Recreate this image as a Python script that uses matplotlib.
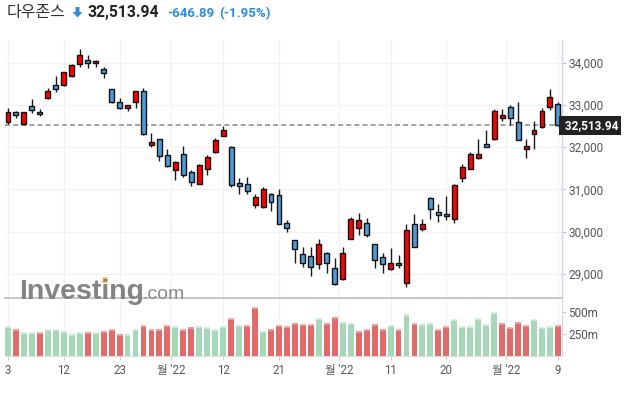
import matplotlib
matplotlib.use("Agg")
import matplotlib.pyplot as plt
from matplotlib.patches import Polygon
import numpy as np

# ---------------- data ----------------
opens = [32583, 32820, 32535, 32971, 32828, 33153, 33462, 33462, 33683, 33960,
         34055, 33984, 33842, 33367, 33058, 32915, 33058, 33319, 32060, 32195,
         31823, 31466, 31838, 31419, 31134, 31490, 31886, 32266, 32013, 31133,
         31133, 30639, 30584, 30898, 30859, 30216, 29792, 29463, 29416, 29228,
         29486, 29133, 28875, 29839, 30098, 30216, 29698, 29408, 29110, 29251,
         28780, 30192, 30075, 30804, 30451, 30412, 30310, 31276, 31490, 31751,
         32052, 32203, 32694, 32939, 32583, 31965, 32298, 32464, 32955, 33010]
highs = [32915, 32860, 32830, 33129, 32891, 33390, 33683, 33786, 33968, 34317,
         34182, 34063, 33889, 33380, 33153, 32990, 33327, 33390, 32337, 32200,
         31965, 31660, 32036, 31466, 31609, 31807, 32226, 32496, 32020, 31275,
         31290, 30882, 31055, 30914, 31016, 30286, 29800, 29627, 29643, 29816,
         29526, 29369, 29643, 30349, 30443, 30333, 29700, 29486, 29604, 29447,
         30176, 30427, 30310, 30820, 30663, 30835, 31118, 31609, 31886, 32187,
         32401, 32891, 32891, 32987, 33074, 32195, 32622, 32915, 33367, 33074]
lows = [32535, 32678, 32520, 32812, 32733, 33129, 33311, 33446, 33667, 33889,
        33865, 33905, 33644, 33034, 32899, 32860, 32915, 32282, 32005, 31672,
        31530, 31229, 31292, 31070, 31118, 31347, 31870, 32266, 31047, 30898,
        30898, 30561, 30569, 30482, 30176, 29996, 29267, 29173, 28961, 29126,
        29016, 28741, 28859, 29816, 29918, 29878, 29149, 29031, 29094, 29133,
        28686, 29627, 30012, 30310, 30231, 30286, 30208, 31173, 31474, 31728,
        32005, 32163, 32622, 32519, 32163, 31751, 31965, 32440, 32876, 32500]
closes = [32820, 32749, 32820, 32868, 32781, 33319, 33367, 33770, 33945, 34174,
          34000, 34032, 33747, 33074, 32931, 32987, 33319, 32298, 32108, 31791,
          31545, 31656, 31332, 31165, 31585, 31767, 32163, 32401, 31110, 31086,
          30961, 30827, 31016, 30710, 30192, 30098, 29596, 29267, 29157, 29698,
          29251, 28757, 29486, 30310, 30286, 29933, 29329, 29228, 29251, 29204,
          30051, 29643, 30192, 30545, 30404, 30365, 31094, 31530, 31846, 31846,
          32005, 32860, 32741, 32678, 32179, 32021, 32416, 32852, 33177, 32513.94]
volumes_m = [326, 303, 265, 265, 265, 292, 303, 280, 243, 265,
             269, 265, 280, 292, 243, 243, 292, 337, 292, 303,
             337, 326, 292, 322, 326, 315, 292, 326, 417, 337,
             337, 542, 280, 303, 337, 326, 368, 349, 349, 417,
             368, 436, 379, 360, 280, 292, 356, 303, 337, 292,
             462, 360, 356, 368, 292, 326, 405, 326, 326, 417,
             349, 485, 368, 315, 379, 337, 405, 315, 326, 337]
volume_green = [1, 0, 1, 1, 0, 1, 1, 1, 1, 1,
                0, 1, 0, 0, 0, 1, 1, 0, 0, 0,
                0, 1, 0, 0, 1, 1, 1, 1, 0, 1,
                0, 0, 1, 0, 0, 0, 0, 0, 0, 1,
                0, 0, 1, 1, 0, 0, 0, 0, 1, 0,
                1, 0, 1, 1, 0, 0, 1, 1, 1, 1,
                1, 1, 0, 0, 0, 0, 1, 1, 1, 0]
candle_up = [1, 0, 1, 0, 0, 1, 0, 1, 1, 1,
             0, 1, 0, 0, 0, 1, 1, 0, 1, 0,
             0, 1, 0, 0, 1, 1, 1, 1, 0, 0,
             0, 1, 1, 0, 0, 0, 0, 0, 0, 1,
             0, 0, 1, 1, 1, 0, 0, 0, 1, 0,
             1, 0, 1, 0, 0, 0, 1, 1, 1, 1,
             0, 1, 1, 0, 0, 1, 1, 1, 1, 0]
tick_pos = [0, 7, 14, 20.5, 27, 34, 41.5, 48, 55, 62.5, 69]
tick_labels = ["3", "12", "23", "월 '22", "12", "21", "월 '22", "11", "20", "월 '22", "9"]
price_ticks = [29000, 30000, 31000, 32000, 33000, 34000]
vol_ticks = [250, 500]
vol_tick_labels = ["250m", "500m"]
last_price = 32513.94
title_name = "다우존스"
title_price = "32,513.94"
title_change = "-646.89"
title_pct = "(-1.95%)"

# ---------------- figure ----------------
W, H = 626, 393
fig = plt.figure(figsize=(W / 100, H / 100), dpi=100)
fig.patch.set_facecolor("white")
FAM = ["Roboto", "Noto Sans CJK KR", "DejaVu Sans"]
plt.rcParams["font.family"] = FAM


def fx(x):
    return x / W


def fy(y):
    return 1 - y / H


L_PX, R_PX = 5, 561.5
x0 = 8.0
dx = 7.97
xlim = ((L_PX - x0) / dx, (R_PX - x0) / dx)

# price axes: y 40 -> 298
ax = fig.add_axes([fx(L_PX), fy(298), (R_PX - L_PX) / W, (298 - 40) / H])
ppx = 42.3 / 1000
ytop = 34000 + (62.5 - 40) / ppx
ybot = 34000 - (298 - 62.5) / ppx
ax.set_xlim(*xlim)
ax.set_ylim(ybot, ytop)

axv = fig.add_axes([fx(L_PX), fy(356), (R_PX - L_PX) / W, (356 - 298) / H])
axv.set_xlim(*xlim)
vpx = 44.3 / 500
axv.set_ylim(0, 58 / vpx)

grid_c = "#f2f2f2"
for a in (ax, axv):
    for xp in tick_pos:
        a.axvline(xp, color=grid_c, lw=0.9, zorder=0)
for p in price_ticks:
    ax.axhline(p, color=grid_c, lw=0.9, zorder=0)

# candles
idx = np.arange(len(opens))
RED = "#ff0000"
BLUE = "#4d9ad6"
ax.vlines(idx, lows, highs, color="#1a1a1a", lw=1.0, zorder=2)
bottoms = [min(o, c) for o, c in zip(opens, closes)]
heights = [max(abs(c - o), 60) for o, c in zip(opens, closes)]
cols = [RED if u else BLUE for u in candle_up]
ax.bar(idx, heights, bottom=bottoms, width=0.62, color=cols,
       edgecolor="#111111", linewidth=1.0, zorder=3)

# last price dashed line
ax.axhline(last_price, color="#9a9a9a", lw=1.3, dashes=(2.8, 1.7), zorder=1)

for s in ("top", "left", "bottom"):
    ax.spines[s].set_visible(False)
ax.spines["right"].set_color("#d3d6e0")
ax.spines["right"].set_linewidth(1.0)
ax.yaxis.tick_right()
ax.set_yticks(price_ticks)
ax.set_yticklabels([f"{p:,}" for p in price_ticks])
ax.tick_params(axis="y", length=3, color="#c8c8c8", pad=2, labelsize=8.5,
               labelcolor="#555555")
ax.set_xticks([])
ax.set_facecolor("none")

# last price box
ax.text(1.0, last_price, f" {last_price:,.2f}", transform=ax.get_yaxis_transform(),
        ha="left", va="center", fontsize=8.5, fontweight="bold", color="white",
        bbox=dict(boxstyle="square,pad=0.25", fc="#222222", ec="none"),
        zorder=10, clip_on=False)

# volume bars
GREEN_V = "#a6d7b9"
RED_V = "#e06b6b"
vcols = [GREEN_V if g else RED_V for g in volume_green]
axv.bar(idx, volumes_m, width=0.74, color=vcols, linewidth=0, zorder=2)
capcols = ["#cfeedb" if g else "#f2a8a8" for g in volume_green]
for i, v in enumerate(volumes_m):
    axv.hlines(v - 4, i - 0.37, i + 0.37, color=capcols[i], lw=1.2, zorder=3)

axv.spines["left"].set_visible(False)
axv.spines["top"].set_color("#bdbdbd")
axv.spines["top"].set_linewidth(1.2)
axv.spines["bottom"].set_color("#dcdcdc")
axv.spines["right"].set_color("#d3d6e0")
axv.yaxis.tick_right()
axv.set_yticks(vol_ticks)
axv.set_yticklabels(vol_tick_labels)
axv.tick_params(axis="y", length=3, color="#c8c8c8", pad=2, labelsize=8.5,
                labelcolor="#555555")
axv.set_xticks(tick_pos)
axv.set_xticklabels(tick_labels)
axv.tick_params(axis="x", length=3, color="#cfcfcf", pad=3, labelsize=8.3,
                labelcolor="#555555")

# watermark
fig.text(fx(19), fy(299), "Investing", fontsize=20.5, fontweight="bold",
         color="#7d7d7d", family=["Liberation Sans", "DejaVu Sans"],
         ha="left", va="baseline", alpha=0.95, zorder=5)
fig.text(fx(142), fy(299), ".com", fontsize=14, color="#8a8a8a",
         family=["Liberation Sans", "DejaVu Sans"], ha="left", va="baseline",
         zorder=5)
fig.patches.append(Polygon([(fx(102), fy(283)), (fx(107), fy(283)),
                            (fx(108), fy(277)), (fx(103), fy(277))],
                           closed=True, transform=fig.transFigure,
                           fc="#f7c46a", ec="none"))

# title
fig.text(fx(7), fy(17), title_name, fontsize=11.5, color="#333333",
         family=["Noto Sans CJK KR", "DejaVu Sans"], ha="left", va="baseline")
arrow = [(75.5, 7), (79.5, 7), (79.5, 12), (82.5, 12), (77.5, 17.5),
         (72.5, 12), (75.5, 12)]
fig.patches.append(Polygon([(fx(a), fy(b)) for a, b in arrow], closed=True,
                           transform=fig.transFigure, fc="#2f8de4", ec="none"))
fig.text(fx(88), fy(17), title_price, fontsize=11.3, fontweight="bold",
         color="#222222", family=FAM, ha="left", va="baseline")
fig.text(fx(167), fy(17), title_change, fontsize=9.6, fontweight="bold",
         color="#2b8be3", family=FAM, ha="left", va="baseline")
fig.text(fx(219), fy(17), title_pct, fontsize=9.6, fontweight="bold",
         color="#2b8be3", family=FAM, ha="left", va="baseline")

fig.savefig("out.png", dpi=100, facecolor="white")
